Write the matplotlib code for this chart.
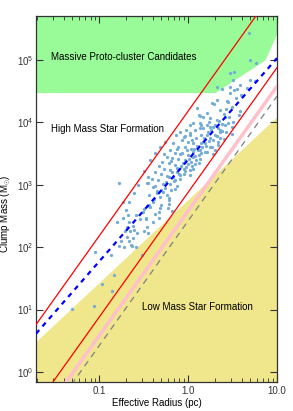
import numpy as np
import matplotlib
matplotlib.use('Agg')
import matplotlib.pyplot as plt
from matplotlib.ticker import NullFormatter, LogLocator

plt.rcParams['font.family'] = ['Liberation Sans', 'DejaVu Sans']
plt.rcParams['mathtext.fontset'] = 'custom'
plt.rcParams['mathtext.rm'] = 'Liberation Sans'
plt.rcParams['mathtext.it'] = 'Liberation Sans:italic'

# clumps: log10 radius (pc), log10 mass (Msun)
# low / left part of the distribution
r_low = [-1.31, -1.06, -0.97, -0.86, -0.83, -0.87, -1.05, -0.78, -0.63, -0.52,
         -0.58, -0.72, -0.64, -0.69, -0.75, -0.66, -0.62, -0.71, -0.65, -0.61,
         -0.69, -0.62, -0.80, -0.73, -0.66, -0.67, -0.59, -0.70, -0.73, -0.66,
         -0.78, -0.56, -0.46, -0.61, -0.50, -0.46, -0.54, -0.47, -0.50, -0.45, -0.57]
m_low = [1.01, 1.05, 1.41, 1.30, 1.55, 1.88, 1.93, 2.02, 2.02, 1.88,
         2.01, 2.00, 2.04, 2.16, 2.10, 2.10, 2.14, 2.26, 2.26, 2.28,
         2.32, 2.34, 2.40, 2.47, 2.41, 2.51, 2.52, 2.59, 2.72, 2.72,
         3.03, 3.00, 3.03, 2.87, 2.61, 2.66, 2.45, 2.45, 2.26, 2.22, 2.23]

r_mid = [-0.44, -0.38, -0.44, -0.51, -0.47, -0.37, -0.32, -0.33, -0.30, -0.24,
         -0.21, -0.22, -0.23, -0.33, -0.40, -0.46, -0.19, -0.15, -0.30, -0.18,
         -0.39, -0.43, -0.22, -0.35, -0.32, -0.39]
m_mid = [2.84, 2.77, 2.68, 2.56, 2.46, 2.53, 2.63, 2.57, 2.68, 2.84,
         2.76, 2.69, 2.62, 2.46, 2.41, 2.33, 2.92, 2.93, 2.91, 2.58,
         2.73, 2.65, 2.78, 2.86, 2.81, 2.97]

# dense core
r_core = [0.13, 0.06, -0.02, -0.04, 0.02, 0.08, 0.13, 0.15, -0.14, -0.07,
          0.00, 0.06, 0.14, -0.17, -0.11, -0.03, 0.03, 0.11, -0.20, -0.15,
          -0.07, 0.00, 0.08, 0.15, -0.24, -0.18, -0.11, -0.04, 0.03, 0.12,
          -0.29, -0.22, -0.15, -0.08, -0.02, 0.06, -0.33, -0.27, -0.20, -0.13,
          -0.05, 0.02, -0.37, -0.30, -0.24, -0.17, -0.09, -0.41, -0.34, -0.28,
          -0.20, -0.45, -0.37, -0.26, -0.32, -0.37, -0.43, -0.45, -0.49,
          0.49, 0.36, 0.30, 0.25, 0.19, 0.34, 0.27, 0.40, 0.13, 0.21,
          0.28, 0.06, 0.13, 0.00, 0.08, -0.05, 0.02, -0.09, -0.15, -0.26,
          -0.25, -0.22, -0.18, -0.16, -0.12, -0.10, -0.06, -0.03, 0.01, 0.04,
          0.05, 0.09, 0.10, 0.12, 0.16, 0.18, 0.20, 0.22, 0.24, 0.26,
          0.30, 0.33, 0.35, 0.38, 0.41, 0.42, -0.01, 0.04, -0.09, -0.13,
          -0.19, -0.27, 0.09, 0.07, -0.35, -0.28, -0.12, 0.23, 0.15, 0.02]
m_core = [4.10, 3.99, 3.87, 3.78, 3.80, 3.87, 3.91, 3.80, 3.80, 3.71,
          3.69, 3.67, 3.67, 3.67, 3.60, 3.60, 3.57, 3.56, 3.55, 3.51,
          3.51, 3.48, 3.46, 3.51, 3.45, 3.43, 3.41, 3.40, 3.37, 3.35,
          3.37, 3.35, 3.32, 3.30, 3.28, 3.25, 3.30, 3.26, 3.24, 3.21,
          3.18, 3.16, 3.21, 3.17, 3.14, 3.12, 3.09, 3.10, 3.07, 3.02,
          3.01, 3.03, 2.98, 3.69, 3.61, 3.51, 3.40, 3.13, 3.22,
          3.81, 3.85, 3.80, 3.75, 3.67, 3.69, 3.61, 3.73, 3.56, 3.53,
          3.50, 3.45, 3.42, 3.34, 3.34, 3.26, 3.24, 3.16, 3.08, 2.94,
          3.05, 3.12, 3.20, 3.06, 3.27, 3.18, 3.35, 3.22, 3.42, 3.30,
          3.52, 3.40, 3.62, 3.48, 3.60, 3.75, 3.62, 3.85, 3.70, 3.88,
          3.95, 3.78, 4.02, 3.86, 4.08, 3.95, 3.55, 3.72, 3.50, 3.58,
          3.38, 3.50, 3.75, 3.58, 2.90, 2.88, 2.98, 4.00, 3.95, 3.95]

# upper right, most massive clumps
r_high = [0.70, 0.76, 0.68, 0.47, 0.52, 0.51, 0.32, 0.38, 0.47, 0.58,
          0.70, 0.75, 0.66, 0.55, 0.47, 0.60, 0.54, 0.45, 0.29, 0.36,
          0.43, 0.49, 0.40, 0.46, 0.51, 0.57, 0.58, 0.21, 0.17, 0.25,
          0.32, 0.38, 0.45, 0.28, 0.34, 0.13, 0.21, 0.49,
          0.10, 0.12, 0.27, 0.32, 0.44, 0.52, -0.05, 0.02, -0.09,
          0.17, 0.25, 0.36, 0.43, 0.21, 0.36, 0.28, 0.17, 0.34, 0.25, 0.30, 0.19]
m_high = [5.00, 4.95, 5.44, 4.79, 4.80, 4.68, 4.56, 4.53, 4.56, 4.60,
          4.68, 4.66, 4.55, 4.53, 4.47, 4.44, 4.39, 4.33, 4.29, 4.20,
          4.22, 4.24, 4.13, 4.09, 4.01, 4.12, 4.18, 4.15, 4.09, 4.07,
          4.04, 3.97, 3.99, 3.93, 3.91, 3.99, 3.96, 3.93,
          4.23, 4.12, 4.31, 4.36, 4.34, 4.52, 3.77, 3.83, 3.85,
          3.91, 3.92, 3.88, 3.85, 3.80, 3.75, 3.72, 3.69, 3.64, 3.61, 3.56, 3.53]

# proto-cluster region lower edge
green_r = [0.0195, 2.0, 7.3, 10.0]
green_m = [3.0e4, 3.0e4, 1.0e5, 2.7e5]

# relations M = coef * r**index
kp_coef, kp_index = 580.0, 1.33      # low mass / high mass boundary
sig1_coef = 15080.0                   # 1 g cm-2
sig005_coef = 754.0                   # 0.05 g cm-2
pink_coef = 380.0
grey_coef = 263.0
fit_coef, fit_index = 2510.0, 1.63

xmin, xmax = 0.0195, 10.0
ymin, ymax = 0.69, 5.07e5

radius = 10 ** np.array(r_low + r_mid + r_core + r_high)
mass = 10 ** np.array(m_low + m_mid + m_core + m_high)

fig = plt.figure(figsize=(2.93, 4.11), dpi=100)
ax = fig.add_axes([0.1229, 0.0706, 0.8225, 0.8905])

rr = np.logspace(np.log10(xmin), np.log10(xmax), 200)
ax.fill_between(rr, ymin, kp_coef * rr ** kp_index, color='#f0e68c', lw=0, zorder=0)
ax.fill_between(green_r, green_m, ymax, color='#98fb98', lw=0, zorder=0)

ax.scatter(radius, mass, s=5.5, color='#74acd6', lw=0, zorder=2)

ax.plot(rr, sig1_coef * rr ** 2, color='red', lw=0.9, zorder=3)
ax.plot(rr, sig005_coef * rr ** 2, color='red', lw=0.9, zorder=3)
ax.plot(rr, pink_coef * rr ** 2, color='pink', lw=2.5, zorder=3)
ax.plot(rr, grey_coef * rr ** 2, color='grey', lw=0.9, dashes=(5, 4), zorder=3)
ax.plot(rr, fit_coef * rr ** fit_index, color='blue', lw=1.6, dashes=(2.2, 2.2), zorder=4)

ax.set_xscale('log')
ax.set_yscale('log')
ax.set_xlim(xmin, xmax)
ax.set_ylim(ymin, ymax)

ax.set_xticks([0.1, 1.0, 10.0])
ax.set_xticklabels(['0.1', '1.0', '10.0'])
ax.xaxis.set_minor_locator(LogLocator(base=10, subs=np.arange(2, 10)))
ax.xaxis.set_minor_formatter(NullFormatter())
ax.yaxis.set_major_locator(LogLocator(base=10, numticks=10))
ax.yaxis.set_minor_locator(plt.NullLocator())

ax.tick_params(which='both', direction='in', top=True, right=True, labelsize=7, colors='#333333')
ax.tick_params(which='major', length=5, width=0.8)
ax.tick_params(which='minor', length=3, width=0.6)
ax.tick_params(axis='x', pad=3)
ax.tick_params(axis='y', pad=2)
for s in ax.spines.values():
    s.set_color('#333333')
    s.set_linewidth(0.9)

ax.set_xlabel('Effective Radius (pc)', fontsize=7)
ax.set_ylabel(r'Clump Mass (M$_{\odot}$)', fontsize=7)
ax.xaxis.set_label_coords(0.5, -0.045)
ax.yaxis.set_label_coords(-0.095, 0.46)

ax.text(0.062, 0.888, 'Massive Proto-cluster Candidates', transform=ax.transAxes,
        fontsize=7, va='center', ha='left', zorder=5)
ax.text(0.062, 0.691, 'High Mass Star Formation', transform=ax.transAxes,
        fontsize=7, va='center', ha='left', zorder=5)
ax.text(0.44, 0.206, 'Low Mass Star Formation', transform=ax.transAxes,
        fontsize=7, va='center', ha='left', zorder=5)

fig.savefig('out.png', dpi=100)
